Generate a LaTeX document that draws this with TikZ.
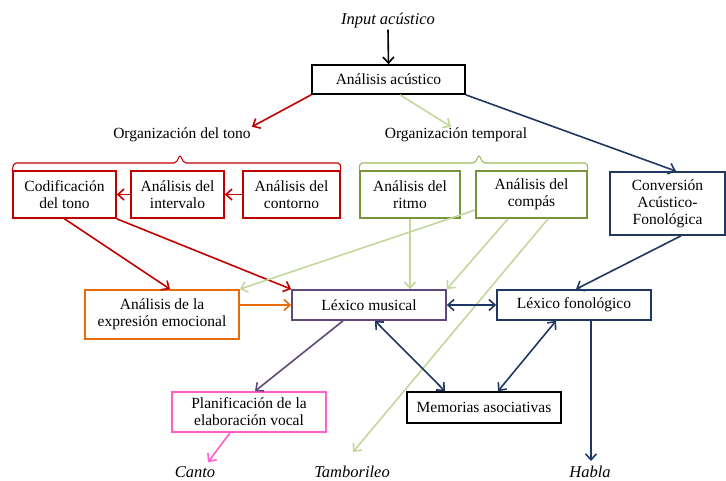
\documentclass[tikz,border=0pt]{standalone}
\usepackage{fontspec}
\setmainfont{Liberation Serif}
\usetikzlibrary{arrows.meta,calc}
\definecolor{cred}{RGB}{192,0,0}
\definecolor{cgreen}{RGB}{119,147,60}
\definecolor{clgreen}{RGB}{195,214,155}
\definecolor{cbrace}{RGB}{155,187,89}
\definecolor{cblue}{RGB}{31,56,96}
\definecolor{corange}{RGB}{228,108,10}
\definecolor{cpurple}{RGB}{96,73,122}
\definecolor{cpink}{RGB}{255,95,200}
\tikzset{
  bx/.style={draw, line width=1.7pt, align=center, inner sep=0pt, font=\fontsize{15.5}{17}\selectfont},
  lbl/.style={inner sep=1pt, font=\fontsize{15.5}{17}\selectfont},
  ilbl/.style={inner sep=1pt, font=\fontsize{16.5}{18}\selectfont\itshape},
  arr/.style={line width=1.6pt, -{Straight Barb[length=6pt,width=11pt,line width=1.6pt]}},
  darr/.style={line width=1.6pt, {Straight Barb[length=6pt,width=11pt,line width=1.6pt]}-{Straight Barb[length=6pt,width=11pt,line width=1.6pt]}},
}
\begin{document}
\begin{tikzpicture}[x=1pt,y=-1pt]
\useasboundingbox (0,0) rectangle (726,480);
% labels
\node[ilbl] (input) at (388,21) {Input acústico};
\node[lbl] (orgtono) at (182,135) {Organización del tono};
\node[lbl] (orgtemp) at (456,135) {Organización temporal};
\node[ilbl] (canto) at (195,472) {Canto};
\node[ilbl] (tambor) at (352,472) {Tamborileo};
\node[ilbl] (habla) at (590,472) {Habla};
% boxes
\node[bx, minimum width=153, minimum height=29] (acus) at (388.5,79.5) {Análisis acústico};
\node[bx, draw=cred, minimum width=103, minimum height=47] (cod) at (64.5,194.5) {Codificación\\del tono};
\node[bx, draw=cred, minimum width=93, minimum height=47] (inter) at (177.5,194.5) {Análisis del\\intervalo};
\node[bx, draw=cred, minimum width=97, minimum height=47] (cont) at (291.5,194.5) {Análisis del\\contorno};
\node[bx, draw=cgreen, minimum width=100, minimum height=47] (ritmo) at (410,194.5) {Análisis del\\ritmo};
\node[bx, draw=cgreen, minimum width=111, minimum height=47] (compas) at (531.5,194.5) {Análisis del\\compás};
\node[bx, draw=cblue, minimum width=115, minimum height=63] (conv) at (667.5,203.5) {Conversión\\Acústico-\\Fonológica};
\node[bx, draw=corange, minimum width=154, minimum height=49] (expr) at (162,314.5) {Análisis de la\\expresión emocional};
\node[bx, draw=cpurple, minimum width=154, minimum height=30] (lexm) at (369,305) {Léxico musical};
\node[bx, draw=cblue, minimum width=154, minimum height=30] (lexf) at (574,305) {Léxico fonológico};
\node[bx, minimum width=154, minimum height=31] (mem) at (484,407.5) {Memorias asociativas};
\node[bx, draw=cpink, minimum width=154, minimum height=40] (plan) at (249,412) {Planificación de la\\elaboración vocal};
% braces
\draw[cred, line width=1.1pt, rounded corners=2pt] (cod.north west) -- (14,163) -- (176,163) -- (180,155) -- (184,163) -- (340,163) -- (cont.north east);
\draw[cbrace, line width=1.1pt, rounded corners=2pt] (ritmo.north west) -- (360,163) -- (475,163) -- (479,155) -- (483,163) -- (587,163) -- (compas.north east);
% connectors
\draw[arr] (input.south) -- (acus.north);
\draw[arr, cred] (acus.south west) -- (orgtono.north east);
\draw[arr, clgreen] ([xshift=11.5]acus.south) -- ([xshift=-5]orgtemp.north);
\draw[arr, cblue] (acus.south east) -- ([xshift=8.5]conv.north);
\draw[arr, cred] (cont.west) -- (inter.east);
\draw[arr, cred] (inter.west) -- (cod.east);
\draw[arr, cred] (cod.south) -- ([xshift=8]expr.north);
\draw[arr, cred] (cod.south east) -- (lexm.north west);
\draw[arr, clgreen] ([yshift=-15.5]compas.west) -- (expr.north east);
\draw[arr, clgreen] (ritmo.south) -- (ritmo.south |- lexm.north);
\draw[arr, clgreen] ([xshift=-23.5]compas.south) -- (lexm.north east);
\coordinate (tend) at ([xshift=1,yshift=13]tambor.north);
\draw[arr, clgreen] ([xshift=16.5]compas.south) -- (tend);
\draw[arr, cblue] ([xshift=13.5]conv.south) -- ([xshift=2]lexf.north);
\draw[arr, corange] (expr.east |- lexm.west) -- (lexm.west);
\draw[darr, cblue] (lexm.east) -- (lexf.west);
\draw[darr, cblue] ([xshift=6]lexm.south) -- ([xshift=-39]mem.north);
\draw[darr, cblue] ([xshift=-18]lexf.south) -- ([xshift=14]mem.north);
\coordinate (lfx) at ([xshift=17]lexf.south);
\coordinate (hend) at ([yshift=4]habla.north);
\draw[arr, cblue] (lfx) -- (lfx |- hend);
\draw[arr, cpurple] ([xshift=-26]lexm.south) -- ([xshift=6]plan.north);
\draw[arr, cpink] ([xshift=-19]plan.south) -- ([xshift=13,yshift=3]canto.north);
\end{tikzpicture}
\end{document}
